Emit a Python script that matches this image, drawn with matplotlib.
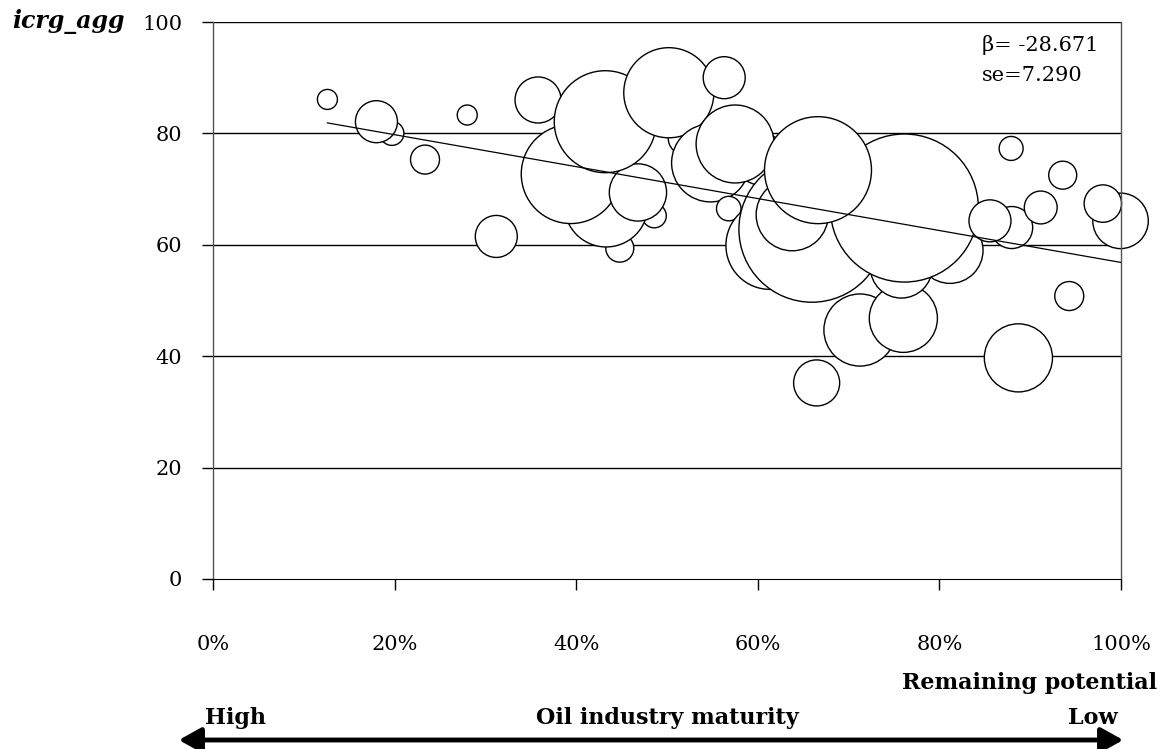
import matplotlib
matplotlib.use("Agg")
import matplotlib.pyplot as plt
import numpy as np

# remaining potential (share), icrg_agg score, bubble weight (relative area)
# listed in drawing order: earlier bubbles sit underneath later ones
remaining = [0.126, 0.197, 0.180, 0.2335, 0.280, 0.312, 0.358, 0.448, 0.486,
             0.433, 0.394, 0.468, 0.432, 0.519, 0.502, 0.563, 0.548, 0.6035,
             0.575, 0.568, 0.6134, 0.6596, 0.8117, 0.7125, 0.7603, 0.758,
             0.7614, 0.6379, 0.6663, 0.6648, 0.879, 0.8796, 0.8557, 0.9116,
             0.9358, 0.9995, 0.980, 0.943, 0.887]
icrg_agg = [86.1, 80.0, 82.1, 75.3, 83.3, 61.5, 86.0, 59.4, 65.2,
            67.1, 72.7, 69.4, 82.1, 79.1, 87.3, 90.0, 74.7, 75.4,
            78.1, 66.5, 59.9, 62.8, 59.0, 44.7, 46.8, 56.0,
            66.6, 65.4, 73.4, 35.2, 77.3, 63.1, 64.3, 66.7,
            72.5, 64.3, 67.4, 50.8, 39.7]
weight = [1.0, 1.44, 4.41, 2.1, 1.0, 4.41, 5.3, 1.96, 1.44,
          17.4, 24.5, 8.2, 26.0, 2.56, 20.3, 4.41, 15.2, 6.8,
          15.2, 1.5, 19.4, 53.3, 10.9, 13.0, 11.6, 9.6,
          54.8, 13.0, 28.6, 5.3, 1.44, 4.41, 4.41, 2.7,
          1.96, 7.7, 3.5, 2.1, 11.6]

beta = -28.671
se = 7.290
intercept = 85.5

yticks = [0, 20, 40, 60, 80, 100]
xticks = [0, 0.2, 0.4, 0.6, 0.8, 1.0]
xticklabels = ["0%", "20%", "40%", "60%", "80%", "100%"]

W, H = 1162, 749
plt.rcParams["font.family"] = "DejaVu Serif"
fig = plt.figure(figsize=(W / 100, H / 100), dpi=100)
ax = fig.add_axes([213 / W, 1 - 579 / H, 908 / W, 557 / H])

fs = 15
bfs = 16

# horizontal grid (the line at 100 doubles as the top border)
for v in yticks[1:]:
    ax.axhline(v, color="black", lw=1.0, zorder=1)

sizes = 207.36 * np.array(weight)
ax.scatter(remaining, icrg_agg, s=sizes, facecolor="white", edgecolor="black",
           linewidths=1.0, zorder=2, clip_on=False)

xs = np.array([min(remaining), max(remaining)])
ax.plot(xs, intercept + beta * xs, color="black", lw=0.9, zorder=3)

ax.set_xlim(0, 1)
ax.set_ylim(0, 100)
ax.set_xticks(xticks)
ax.set_xticklabels(xticklabels, fontsize=fs)
ax.set_yticks(yticks)
ax.set_yticklabels([str(v) for v in yticks], fontsize=fs)
ax.tick_params(axis="x", length=8, width=1, pad=32, direction="out")
ax.tick_params(axis="y", length=8, width=1, pad=14, direction="out")
for side in ["left", "right"]:
    ax.spines[side].set_color("#555555")
    ax.spines[side].set_linewidth(1.0)
ax.spines["bottom"].set_color("black")
ax.spines["top"].set_visible(False)

ax.text(0.847, 0.958, "\u03b2= %.3f" % beta, transform=ax.transAxes,
        fontsize=fs, va="center", ha="left")
ax.text(0.847, 0.904, "se=%.3f" % se, transform=ax.transAxes,
        fontsize=fs, va="center", ha="left")


def ftext(px, py, s, **kw):
    fig.text(px / W, 1 - py / H, s, **kw)


ftext(12, 22, "icrg_agg", fontsize=bfs + 1, weight="bold", style="italic",
      va="center", ha="left")
ftext(1157, 683, "Remaining potential", fontsize=bfs, weight="bold",
      va="center", ha="right")
ftext(205, 718, "High", fontsize=bfs, weight="bold", va="center", ha="left")
ftext(667, 718, "Oil industry maturity", fontsize=bfs, weight="bold",
      va="center", ha="center")
ftext(1118, 718, "Low", fontsize=bfs, weight="bold", va="center", ha="right")

fig.patches.append(matplotlib.patches.FancyArrowPatch(
    (176 / W, 1 - 740 / H), (1126 / W, 1 - 740 / H),
    transform=fig.transFigure, arrowstyle="<|-|>,head_length=9,head_width=5",
    lw=3.5, color="black", mutation_scale=1.5))

fig.savefig("out.png", dpi=100)
